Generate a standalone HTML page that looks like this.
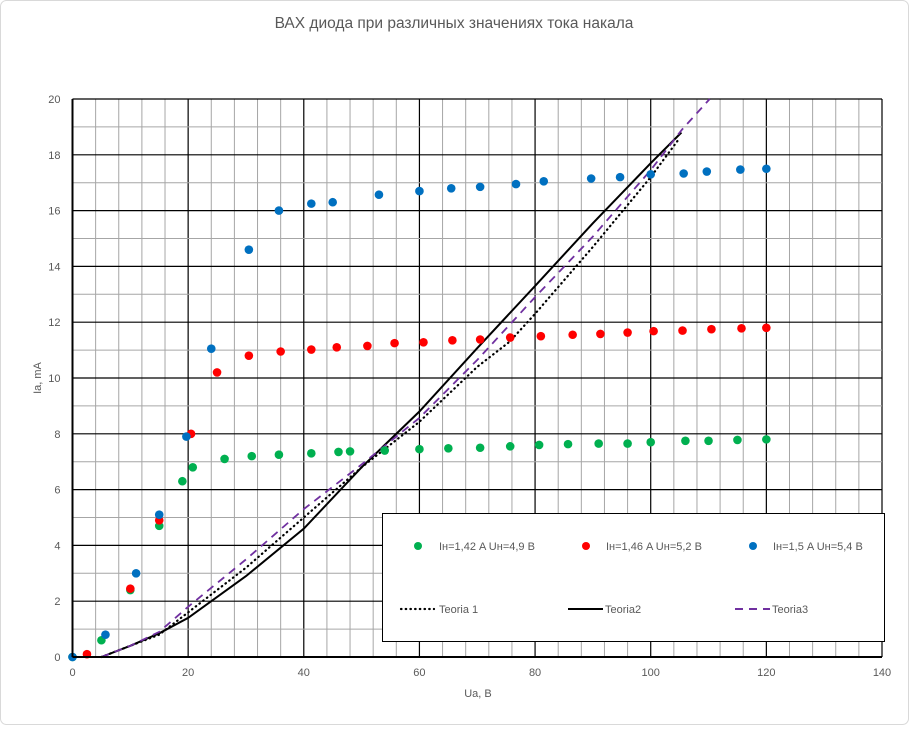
<!DOCTYPE html>
<html><head><meta charset="utf-8"><style>
body{margin:0;background:#fff;}
svg text{font-family:"Liberation Sans","DejaVu Sans",sans-serif;fill:#595959;}
</style></head><body>
<svg id="chart" width="909" height="725" xmlns="http://www.w3.org/2000/svg">
<rect x="0.5" y="0.5" width="908" height="724" rx="6" fill="#fff" stroke="#d9d9d9"/>
<text x="454" y="28" font-size="15.5" text-anchor="middle">ВАХ диода при различных значениях тока накала</text>
<g id="grid"></g><g id="lines"></g><g id="points"></g><g id="axes"></g>
<text transform="translate(41,378) rotate(-90)" font-size="11" text-anchor="middle">Ia, mA</text>
<text x="478" y="697" font-size="11" text-anchor="middle">Ua, B</text>
<g>
<rect x="382.5" y="513.5" width="502" height="128" fill="#fff" stroke="#000" stroke-width="1"/>
<g><circle cx="418" cy="546" r="4" fill="#00b050"/><text x="439" y="550" font-size="11">Iн=1,42 A Uн=4,9 B</text></g>
<g><circle cx="586" cy="546" r="4" fill="#ff0000"/><text x="606" y="550" font-size="11">Iн=1,46 A Uн=5,2 B</text></g>
<g><circle cx="753" cy="546" r="4" fill="#0070c0"/><text x="773" y="550" font-size="11">Iн=1,5 A Uн=5,4 B</text></g>
<g><line x1="401" y1="609" x2="434" y2="609" stroke="#000" stroke-width="2.2" stroke-dasharray="0.5,4.2" stroke-linecap="round"/><text x="439" y="613" font-size="11">Teoria 1</text></g>
<g><line x1="568" y1="609" x2="603" y2="609" stroke="#000" stroke-width="2"/><text x="605" y="613" font-size="11">Teoria2</text></g>
<g><line x1="735" y1="609" x2="770" y2="609" stroke="#7030a0" stroke-width="2" stroke-dasharray="8,6"/><text x="772" y="613" font-size="11">Teoria3</text></g>
</g>
</svg>
<script>
const xTicks=[0,20,40,60,80,100,120,140];
const yTicks=[0,2,4,6,8,10,12,14,16,18,20];
const greenX=[0,5,10,15,19,20.8,26.3,31,35.7,41.3,46,48,54,60,65,70.5,75.7,80.7,85.7,91,96,100,106,110,115,120];
const greenY=[0,0.6,2.4,4.7,6.3,6.8,7.1,7.2,7.25,7.3,7.35,7.37,7.4,7.45,7.48,7.5,7.55,7.6,7.63,7.65,7.65,7.7,7.75,7.75,7.78,7.8];
const redX=[2.5,10,15,20.5,25,30.5,36,41.3,45.7,51,55.7,60.7,65.7,70.5,75.7,81,86.5,91.3,96,100.5,105.5,110.5,115.7,120];
const redY=[0.1,2.45,4.9,8.0,10.2,10.8,10.95,11.02,11.1,11.15,11.25,11.28,11.35,11.38,11.45,11.5,11.55,11.58,11.63,11.68,11.7,11.75,11.78,11.8];
const blueX=[0,5.7,11,15,19.7,24,30.5,35.7,41.3,45,53,60,65.5,70.5,76.7,81.5,89.7,94.7,100,105.7,109.7,115.5,120];
const blueY=[0,0.8,3.0,5.1,7.9,11.05,14.6,16.0,16.25,16.3,16.57,16.7,16.8,16.85,16.95,17.05,17.15,17.2,17.3,17.33,17.4,17.47,17.5];
const t1X=[5,10,15,20,30,40,50,60,70,75.6,80,90,100,105];
const t1Y=[0,0.4,0.8,1.6,3.2,5.0,6.8,8.43,10.4,11.3,12.3,14.7,17.2,18.6];
const t2X=[5,10,15,20,30,40,50,60,70,80,90,100,105.3];
const t2Y=[0,0.4,0.85,1.4,2.9,4.6,6.8,8.8,11.07,13.3,15.55,17.7,18.8];
const t3X=[5,10,15,20,30,40,50,60,70,80,90,100,105.4,110.2];
const t3Y=[0,0.4,0.9,1.8,3.5,5.3,6.9,8.57,10.65,12.9,15.07,17.45,18.9,20.0];
const X0=72.5,X1=882,Y0=657,Y1=99;
function sx(v){return X0+(v-0)/140*(X1-X0);}
function sy(v){return Y0-(v-0)/20*(Y0-Y1);}
const NS='http://www.w3.org/2000/svg';
function mk(tag,attrs,parent){const e=document.createElementNS(NS,tag);for(const k in attrs)e.setAttribute(k,attrs[k]);parent.appendChild(e);return e;}
const grid=document.getElementById('grid'),axes=document.getElementById('axes');
for(let v=0;v<=140;v+=4){const x=sx(v);const l=mk('line',{x1:x,x2:x,y1:Y1,y2:Y0,stroke:v%20===0?'#000':'#a6a6a6','stroke-width':v%20===0?1.2:1},grid);

}
for(let v=0;v<=20;v+=1){const y=sy(v);const l=mk('line',{x1:X0,x2:X1,y1:y,y2:y,stroke:v%2===0?'#000':'#a6a6a6','stroke-width':v%2===0?1.2:1},grid);

}
const ya=mk('line',{x1:X0,x2:X0,y1:Y1,y2:Y0,stroke:'#000','stroke-width':2},axes);


const xa=mk('line',{x1:X0,x2:X1,y1:Y0,y2:Y0,stroke:'#000','stroke-width':2},axes);


xTicks.forEach(v=>{const t=mk('text',{x:sx(v),y:Y0+19,'font-size':11,'text-anchor':'middle'},axes);t.textContent=v;

});
yTicks.forEach(v=>{const t=mk('text',{x:X0-12,y:sy(v)+4,'font-size':11,'text-anchor':'end'},axes);t.textContent=v;

});
const lines=document.getElementById('lines');
function line(xs,ys,attrs,name){const d=xs.map((x,i)=>(i?'L':'M')+sx(x).toFixed(1)+','+sy(ys[i]).toFixed(1)).join('');
const p=mk('path',Object.assign({d:d,fill:'none'},attrs),lines);

}
line(t1X,t1Y,{stroke:'#000','stroke-width':2.2,'stroke-dasharray':'0.5,4.2','stroke-linecap':'round'},'teoria1-line');
line(t2X,t2Y,{stroke:'#000','stroke-width':2},'teoria2-line');
line(t3X,t3Y,{stroke:'#7030a0','stroke-width':1.8,'stroke-dasharray':'8,6'},'teoria3-line');
const pts=document.getElementById('points');
function scat(xs,ys,col,name){xs.forEach((x,i)=>{const c=mk('circle',{cx:sx(x),cy:sy(ys[i]),r:4.3,fill:col},pts);

});}
scat(greenX,greenY,'#00b050','point-green');
scat(redX,redY,'#ff0000','point-red');
scat(blueX,blueY,'#0070c0','point-blue');
</script>
</body></html>
